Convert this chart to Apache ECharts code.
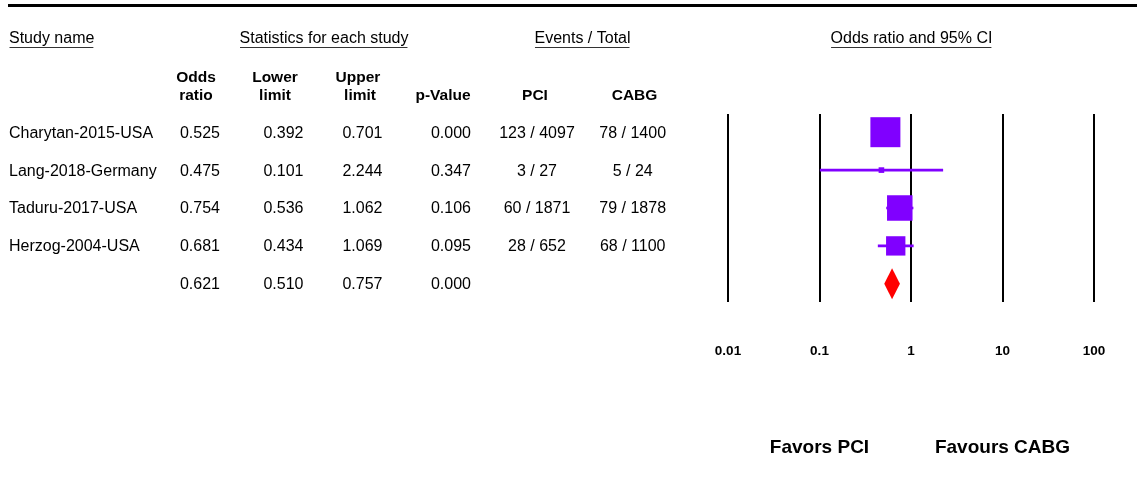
<!DOCTYPE html>
<html>
<head>
<meta charset="utf-8">
<script src="https://cdn.jsdelivr.net/npm/echarts@6/dist/echarts.min.js"></script>
<style>
  html, body { margin: 0; padding: 0; background: #fff; }
  #chart { width: 1137px; height: 479px; }
</style>
</head>
<body>
<div id="chart"></div>
<script>
// ---- Study data ----
const studies     = ['Charytan-2015-USA', 'Lang-2018-Germany', 'Taduru-2017-USA', 'Herzog-2004-USA'];
const oddsRatio   = [0.525, 0.475, 0.754, 0.681];
const lowerLimit  = [0.392, 0.101, 0.536, 0.434];
const upperLimit  = [0.701, 2.244, 1.062, 1.069];
const pValue      = ['0.000', '0.347', '0.106', '0.095'];
const pciEvents   = ['123 / 4097', '3 / 27', '60 / 1871', '28 / 652'];
const cabgEvents  = ['78 / 1400', '5 / 24', '79 / 1878', '68 / 1100'];

// Pooled (fixed-effect) estimate: odds ratio, lower, upper
const pooledStats = [0.621, 0.510, 0.757];
const pooledP     = '0.000';

// Odds-ratio axis ticks
const axisTicks  = [0.01, 0.1, 1, 10, 100];
const tickLabels = ['0.01', '0.1', '1', '10', '100'];

// ---- Styling ----
const FONT = '"Liberation Sans", Arial, Helvetica, sans-serif';
const PURPLE = '#8000ff';
const RED = '#ff0000';
const MAX_BOX = 30;

// Inverse-variance weights from the log-scale confidence interval, used for box size
const weights = lowerLimit.map((lo, i) => {
  const se = (Math.log(upperLimit[i]) - Math.log(lo)) / 3.92;
  return 1 / (se * se);
});
const maxW = Math.max.apply(null, weights);

const studyData = studies.map((s, i) => [
  oddsRatio[i], lowerLimit[i], upperLimit[i], i, MAX_BOX * Math.sqrt(weights[i] / maxW)
]);
const pooledRow = studies.length;

const chart = echarts.init(document.getElementById('chart'), null, { renderer: 'canvas' });

chart.setOption({
  animation: false,
  backgroundColor: '#fff',
  grid: { left: 728, right: 43, top: 114, bottom: 177, containLabel: false },
  xAxis: {
    type: 'log',
    logBase: 10,
    min: axisTicks[0],
    max: axisTicks[axisTicks.length - 1],
    interval: 1,
    axisLine: { show: false },
    axisTick: { show: false },
    splitLine: { show: true, lineStyle: { color: '#000', width: 2 } },
    axisLabel: {
      show: true,
      margin: 42,
      fontFamily: FONT,
      fontSize: 13.5,
      fontWeight: 'bold',
      color: '#000',
      formatter: function (v) {
        const k = axisTicks.findIndex(t => Math.abs(Math.log10(t) - Math.log10(v)) < 1e-6);
        return k >= 0 ? tickLabels[k] : '';
      }
    }
  },
  yAxis: {
    type: 'value',
    inverse: true,
    min: -0.48,
    max: 4.48,
    show: false
  },
  series: [
    {
      type: 'custom',
      name: 'studies',
      clip: false,
      data: studyData,
      encode: { x: [0, 1, 2], y: 3 },
      renderItem: function (params, api) {
        const row = api.value(3);
        const c = api.coord([api.value(0), row]);
        const lo = api.coord([api.value(1), row]);
        const hi = api.coord([api.value(2), row]);
        const side = api.value(4);
        return {
          type: 'group',
          children: [
            { type: 'line', shape: { x1: lo[0], y1: lo[1], x2: hi[0], y2: hi[1] },
              style: { stroke: PURPLE, lineWidth: 2.6 } },
            { type: 'rect', shape: { x: c[0] - side / 2, y: c[1] - side / 2, width: side, height: side },
              style: { fill: PURPLE } }
          ]
        };
      }
    },
    {
      type: 'custom',
      name: 'pooled',
      clip: false,
      data: [[pooledStats[0], pooledStats[1], pooledStats[2], pooledRow]],
      encode: { x: [0, 1, 2], y: 3 },
      renderItem: function (params, api) {
        const row = api.value(3);
        const c = api.coord([api.value(0), row]);
        const lo = api.coord([api.value(1), row]);
        const hi = api.coord([api.value(2), row]);
        const h = 15.5;
        return {
          type: 'polygon',
          shape: { points: [[lo[0], c[1]], [c[0], c[1] - h], [hi[0], c[1]], [c[0], c[1] + h]] },
          style: { fill: RED }
        };
      }
    }
  ]
});

// ---- Table text, placed on the same row scale as the plot ----
const measureCtx = document.createElement('canvas').getContext('2d');
function textWidth(str, font) { measureCtx.font = font; return measureCtx.measureText(str).width; }

const normalFont = '16px ' + FONT;
const boldFont = 'bold 15.5px ' + FONT;
const graphics = [];

function txt(str, x, y, align, font) {
  graphics.push({
    type: 'text', x: x, y: y, silent: true,
    style: { text: str, font: font, fill: '#000',
             align: align, verticalAlign: 'middle',
             textAlign: align, textVerticalAlign: 'middle' }
  });
}
function hline(x1, x2, y, w, color) {
  graphics.push({ type: 'line', silent: true,
    shape: { x1: x1, y1: y, x2: x2, y2: y }, style: { stroke: color, lineWidth: w } });
}

// Top rule
hline(8, 1137, 5.5, 3, '#000');

// Group headings with underline
function heading(str, x, align) {
  txt(str, x, 39, align, normalFont);
  const w = textWidth(str, normalFont);
  const left = align === 'left' ? x : x - w / 2;
  hline(left + 0.5, left + w - 1, 47.5, 1, '#333');
}
heading('Study name', 9, 'left');
heading('Statistics for each study', 324, 'center');
heading('Events / Total', 582.5, 'center');
heading('Odds ratio and 95% CI', 911.5, 'center');

// Column headings
txt('Odds', 196, 77.5, 'center', boldFont);
txt('ratio', 196, 96, 'center', boldFont);
txt('Lower', 275, 77.5, 'center', boldFont);
txt('limit', 275, 96, 'center', boldFont);
txt('Upper', 358, 77.5, 'center', boldFont);
txt('limit', 360, 96, 'center', boldFont);
txt('p-Value', 443, 96, 'center', boldFont);
txt('PCI', 535, 96, 'center', boldFont);
txt('CABG', 634.5, 96, 'center', boldFont);

// Rows
function rowY(i) { return chart.convertToPixel({ yAxisIndex: 0 }, i) + 1; }
studies.forEach((name, i) => {
  const y = rowY(i);
  txt(name, 9, y, 'left', normalFont);
  txt(oddsRatio[i].toFixed(3), 220, y, 'right', normalFont);
  txt(lowerLimit[i].toFixed(3), 303.5, y, 'right', normalFont);
  txt(upperLimit[i].toFixed(3), 382.5, y, 'right', normalFont);
  txt(pValue[i], 471, y, 'right', normalFont);
  txt(pciEvents[i], 537, y, 'center', normalFont);
  txt(cabgEvents[i], 632.7, y, 'center', normalFont);
});
const py = rowY(pooledRow);
txt(pooledStats[0].toFixed(3), 220, py, 'right', normalFont);
txt(pooledStats[1].toFixed(3), 303.5, py, 'right', normalFont);
txt(pooledStats[2].toFixed(3), 382.5, py, 'right', normalFont);
txt(pooledP, 471, py, 'right', normalFont);

// Direction labels under the 0.1 and 10 ticks
const favFont = 'bold 19px ' + FONT;
txt('Favors PCI', chart.convertToPixel({ xAxisIndex: 0 }, 0.1), 447.5, 'center', favFont);
txt('Favours CABG', chart.convertToPixel({ xAxisIndex: 0 }, 10), 447.5, 'center', favFont);

chart.setOption({ graphic: { elements: graphics } });
</script>
</body>
</html>
